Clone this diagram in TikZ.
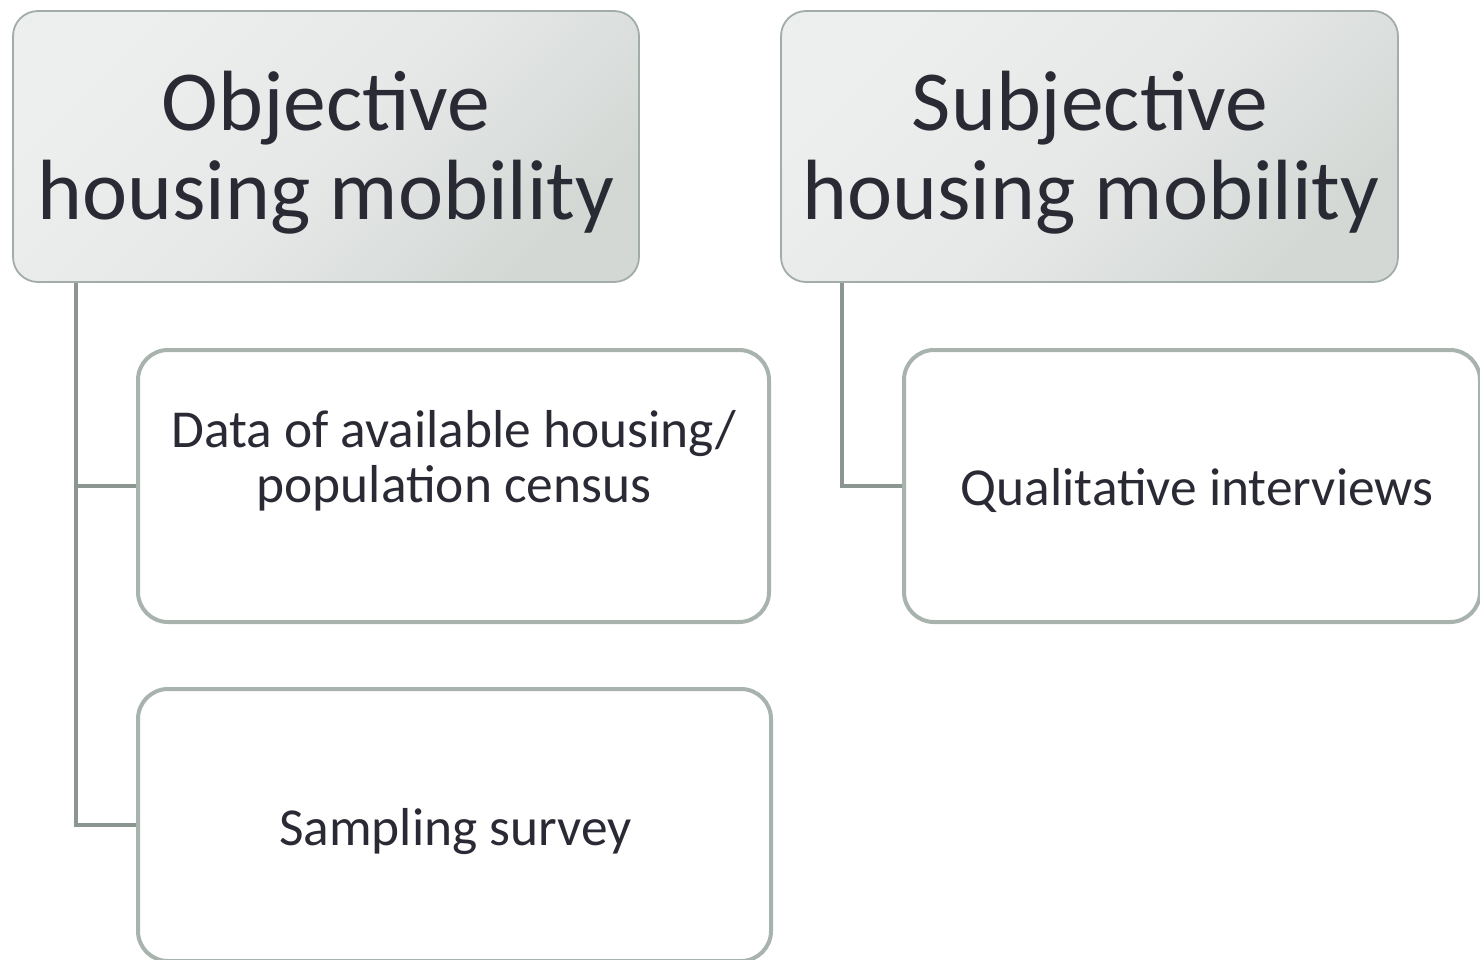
\documentclass[tikz,border=0pt]{standalone}
\usepackage{fontspec}
\setmainfont{Carlito}
\definecolor{txt}{HTML}{2A2A35}
\definecolor{conn}{HTML}{8B9690}
\definecolor{cbord}{HTML}{A8B3AD}
\definecolor{hbord}{HTML}{A3ADA7}
\definecolor{hfillA}{HTML}{EDEEEE}
\definecolor{hfillB}{HTML}{D3D8D5}
\begin{document}
\begin{tikzpicture}[x=1pt,y=-1pt,
  hdr/.style={draw=hbord, line width=1.8pt, rounded corners=25pt,
    top color=hfillA, bottom color=hfillB, middle color=hfillA!75!hfillB,
    shading angle=45, inner sep=0pt},
  hdrtext/.style={anchor=base, text=txt, inner sep=0pt, font=\fontsize{85.5}{91}\selectfont},
  child/.style={draw=cbord, line width=4pt, rounded corners=30pt, fill=white,
    inner sep=0pt, minimum width=631pt, minimum height=272pt},
  childtext/.style={anchor=base, text=txt, inner sep=0pt, font=\fontsize{53.4}{56}\selectfont},
  conn/.style={draw=conn, line width=4pt}]
\useasboundingbox (0,0) rectangle (1480,959);
\clip (0,0) rectangle (1480,959);
\node[hdr, minimum width=626pt, minimum height=271pt] (obj) at (326,146.5) {};
\node[hdr, minimum width=617pt, minimum height=271pt] (subj) at (1089.5,146.5) {};
\node[hdrtext] (objA) at (326,130) {Objective};
\node[hdrtext] (objB) at (326,219) {housing mobility};
\node[hdrtext] (subjA) at (1090,130) {Subjective};
\node[hdrtext] (subjB) at (1091,219) {housing mobility};
\coordinate (ot) at ([xshift=64pt]obj.south west);
\coordinate (st) at ([xshift=62pt]subj.south west);
\node[child] (data) at (453.5,486) {};
\node[child, minimum width=633pt] (samp) at (454.5,825) {};
\node[child, minimum width=576pt] (qual) at (1192,486) {};
\node[childtext] (dataA) at (454,447) {Data of available housing/};
\node[childtext] (dataB) at (454,502) {population census};
\node[childtext] (sampT) at (455.5,845) {Sampling survey};
\node[childtext] (qualT) at (1197,505) {Qualitative interviews};
\draw[conn] (ot) |- (data.west);
\draw[conn] (ot) |- (samp.west);
\draw[conn] (st) |- (qual.west);
\end{tikzpicture}
\end{document}
